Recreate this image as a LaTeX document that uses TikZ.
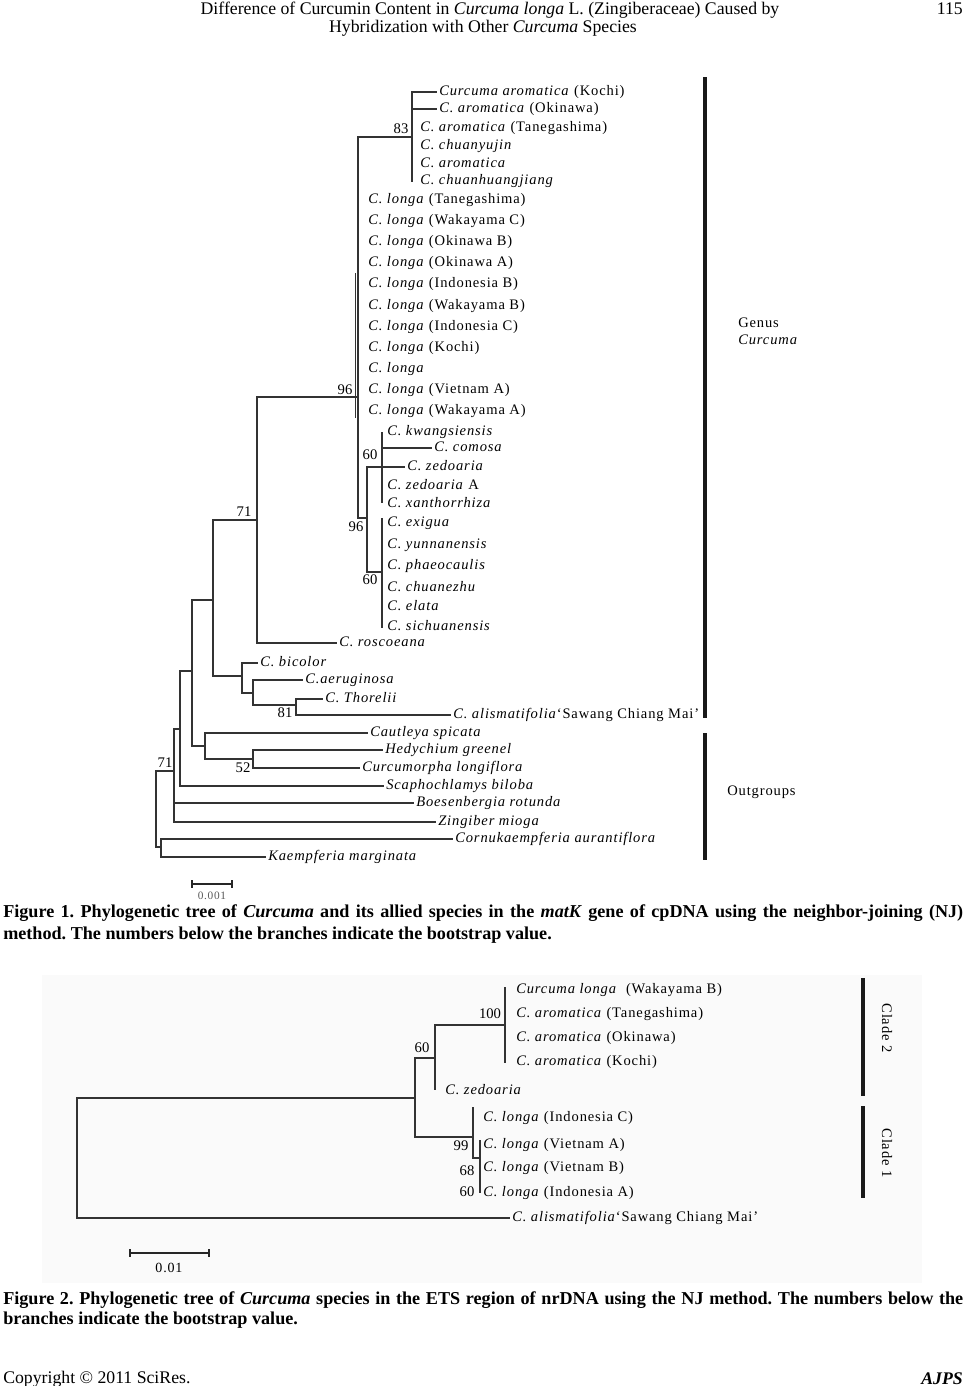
\documentclass[tikz,border=0pt]{standalone}
\usepackage{fontspec}
\setmainfont{Liberation Serif}
\newfontfamily\treefont[LetterSpace=6]{Liberation Serif}
\newcommand{\leaffont}{\treefont\fontsize{10.9}{13}\selectfont}
\newcommand{\bsfont}{\fontsize{11}{13}\selectfont}
\newcommand{\capfont}{\fontsize{13.6}{16}\selectfont\bfseries}
\newcommand{\headfont}{\fontsize{13.3}{16}\selectfont}
\frenchspacing
\begin{document}
\begin{tikzpicture}[x=0.75pt,y=-0.75pt,line join=miter,
  br/.style={draw=black!80,line width=0.8pt},
  leaf/.style={anchor=west,inner xsep=1.5pt,inner ysep=0pt,text height=0.72em,text depth=0.22em,font=\leaffont},
  boot/.style={inner sep=0pt,font=\bsfont},
  bar/.style={draw=black!90,line width=3pt},
  lab/.style={anchor=west,inner sep=0pt}]
\fill[white] (0,0) rectangle (965,1386);
\useasboundingbox (0,0) rectangle (965,1386);
%% page header
  \node[font=\headfont,inner sep=0pt] (hd1) at (490,10) {Difference of Curcumin Content in \textit{Curcuma longa} L. (Zingiberaceae) Caused by};
  \node[font=\headfont,inner sep=0pt] (hd2) at (483,28) {Hybridization with Other \textit{Curcuma} Species};
  \node[font=\headfont,inner sep=0pt,anchor=east] (pg) at (963,9) {115};
%% figure 1
  \coordinate (r1) at (156,809);
  \coordinate (n174) at (174,771);
  \coordinate (n180) at (180,729);
  \coordinate (n192) at (192,671);
  \coordinate (n205) at (205,746);
  \coordinate (n213) at (213,600);
  \coordinate (n242) at (242,676);
  \coordinate (n253) at (253,693);
  \coordinate (n296) at (296,705);
  \coordinate (n252) at (253,759);
  \coordinate (n257) at (257,520);
  \coordinate (n358) at (358,397);
  \coordinate (n412) at (412,137);
  \coordinate (n412b) at (412,182);
  \coordinate (n367) at (367,518);
  \coordinate (n382a) at (382,467);
  \coordinate (n382at) at (382,432);
  \coordinate (n382ab) at (382,503);
  \coordinate (n382b) at (382,572);
  \coordinate (n382bt) at (382,518);
  \coordinate (n382bb) at (382,628);
  \coordinate (n161) at (161,847);
  \coordinate (dbl1) at (355,273);
  \coordinate (dbl2) at (355,418);
  \node[leaf] (kochi) at (437,92) {\textit{Curcuma aromatica} (Kochi)};
  \node[leaf] (okin) at (437,109) {\textit{C. aromatica} (Okinawa)};
  \node[leaf] (tane) at (418,128) {\textit{C. aromatica} (Tanegashima)};
  \node[leaf] (chyj) at (418,146) {\textit{C. chuanyujin}};
  \node[leaf] (arom) at (418,164) {\textit{C. aromatica}};
  \node[leaf] (chhj) at (418,181) {\textit{C. chuanhuangjiang}};
  \node[leaf] (lTa) at (366,200) {\textit{C. longa} (Tanegashima)};
  \node[leaf] (lWC) at (366,221) {\textit{C. longa} (Wakayama C)};
  \node[leaf] (lOB) at (366,242) {\textit{C. longa} (Okinawa B)};
  \node[leaf] (lOA) at (366,263) {\textit{C. longa} (Okinawa A)};
  \node[leaf] (lIB) at (366,284) {\textit{C. longa} (Indonesia B)};
  \node[leaf] (lWB) at (366,306) {\textit{C. longa} (Wakayama B)};
  \node[leaf] (lIC) at (366,327) {\textit{C. longa} (Indonesia C)};
  \node[leaf] (lKo) at (366,348) {\textit{C. longa} (Kochi)};
  \node[leaf] (lon) at (366,369) {\textit{C. longa}};
  \node[leaf] (lVA) at (366,390) {\textit{C. longa} (Vietnam A)};
  \node[leaf] (lWA) at (366,411) {\textit{C. longa} (Wakayama A)};
  \node[leaf] (kwan) at (385,432) {\textit{C. kwangsiensis}};
  \node[leaf] (como) at (432,448) {\textit{C. comosa}};
  \node[leaf] (zedo) at (405,467) {\textit{C. zedoaria}};
  \node[leaf] (zedA) at (385,486) {\textit{C. zedoaria} A};
  \node[leaf] (xant) at (385,504) {\textit{C. xanthorrhiza}};
  \node[leaf] (exig) at (385,523) {\textit{C. exigua}};
  \node[leaf] (yunn) at (385,545) {\textit{C. yunnanensis}};
  \node[leaf] (phae) at (385,566) {\textit{C. phaeocaulis}};
  \node[leaf] (chuz) at (385,588) {\textit{C. chuanezhu}};
  \node[leaf] (elat) at (385,607) {\textit{C. elata}};
  \node[leaf] (sich) at (385,627) {\textit{C. sichuanensis}};
  \node[leaf] (rosc) at (337,643) {\textit{C. roscoeana}};
  \node[leaf] (bico) at (258,663) {\textit{C. bicolor}};
  \node[leaf] (aeru) at (303,680) {\textit{C.aeruginosa}};
  \node[leaf] (thor) at (323,699) {\textit{C. Thorelii}};
  \node[leaf] (alis) at (451,715) {\textit{C. alismatifolia}‘Sawang Chiang Mai’};
  \node[leaf] (caut) at (368,733) {\textit{Cautleya spicata}};
  \node[leaf] (hedy) at (383,750) {\textit{Hedychium greenel}};
  \node[leaf] (curc) at (360,768) {\textit{Curcumorpha longiflora}};
  \node[leaf] (scap) at (384,786) {\textit{Scaphochlamys biloba}};
  \node[leaf] (boes) at (414,803) {\textit{Boesenbergia rotunda}};
  \node[leaf] (zing) at (436,822) {\textit{Zingiber mioga}};
  \node[leaf] (corn) at (453,839) {\textit{Cornukaempferia aurantiflora}};
  \node[leaf] (kaem) at (266,857) {\textit{Kaempferia marginata}};
  \draw[br] (r1) |- (n174);
  \draw[br] (r1) |- (n161);
  \draw[br] (n174) |- (n180);
  \draw[br] (n174) |- (boes.west);
  \draw[br] (n174) |- (zing.west);
  \draw[br] (n180) |- (n192);
  \draw[br] (n180) |- (scap.west);
  \draw[br] (n192) |- (n213);
  \draw[br] (n192) |- (n205);
  \draw[br] (n213) |- (n257);
  \draw[br] (n213) |- (n242);
  \draw[br] (n257) |- (n358);
  \draw[br] (n257) |- (rosc.west);
  \draw[br] (n358) |- (n412);
  \draw[br] (n358) |- (n367);
  \draw[br,line width=0.6pt] (dbl1) -- (dbl2);
  \draw[br] (n412) |- (kochi.west);
  \draw[br] (n412) |- (okin.west);
  \draw[br] (n412) -- (n412b);
  \draw[br] (n367) |- (n382a);
  \draw[br] (n367) |- (n382b);
  \draw[br] (n382at) -- (n382ab);
  \draw[br] (n382a) |- (como.west);
  \draw[br] (n382a) -- (zedo.west);
  \draw[br] (n382bt) -- (n382bb);
  \draw[br] (n242) |- (bico.west);
  \draw[br] (n242) |- (n253);
  \draw[br] (n253) |- (aeru.west);
  \draw[br] (n253) |- (n296);
  \draw[br] (n296) |- (thor.west);
  \draw[br] (n296) |- (alis.west);
  \draw[br] (n205) |- (caut.west);
  \draw[br] (n205) |- (n252);
  \draw[br] (n252) |- (hedy.west);
  \draw[br] (n252) |- (curc.west);
  \draw[br] (n161) |- (corn.west);
  \draw[br] (n161) |- (kaem.west);
  \node[boot] (b83) at (401,129) {83};
  \node[boot] (b96a) at (345,390) {96};
  \node[boot] (b60a) at (370,455) {60};
  \node[boot] (b96b) at (356,527) {96};
  \node[boot] (b60b) at (370,580) {60};
  \node[boot] (b71a) at (244,512) {71};
  \node[boot] (b81) at (285,713) {81};
  \node[boot] (b52) at (243,768) {52};
  \node[boot] (b71b) at (165,763) {71};
  \coordinate (gtop) at (705,77);
  \coordinate (gbot) at (705,718);
  \coordinate (otop) at (705,733);
  \coordinate (obot) at (705,860);
  \draw[bar] (gtop) -- (gbot);
  \draw[bar] (otop) -- (obot);
  \node[leaf] (genus) at (736,324) {Genus};
  \node[leaf] (genus2) at (736,341) {\textit{Curcuma}};
  \node[leaf] (outg) at (725,792) {Outgroups};
  \coordinate (s1a) at (192,884);
  \coordinate (s1b) at (232,884);
  \draw[draw=black!85,line width=2pt] (s1a) -- (s1b);
  \draw[draw=black!85,line width=1pt] ([yshift=3pt]s1a) -- ([yshift=-3pt]s1a) ([yshift=3pt]s1b) -- ([yshift=-3pt]s1b);
  \node[inner sep=0pt,text=black!65,font=\treefont\fontsize{8.5}{10}\selectfont] (s1t) at (212,896) {0.001};
  \node[lab,font=\capfont] (cap1a) at (3,913) {\makebox[720pt][s]{Figure 1. Phylogenetic tree of \textit{Curcuma} and its allied species in the \textit{matK} gene of cpDNA using the neighbor-joining (NJ)}};
  \node[lab,font=\capfont] (cap1b) at (3,935) {method. The numbers below the branches indicate the bootstrap value.};
%% figure 2
  \fill[black!2] (42,975) rectangle (922,1283);
  \coordinate (r2) at (77,1157);
  \coordinate (m415) at (415,1098);
  \coordinate (m435) at (435,1058);
  \coordinate (m435b) at (435,1090);
  \coordinate (m505) at (505,1025);
  \coordinate (m505t) at (505,987);
  \coordinate (m505b) at (505,1063);
  \coordinate (m473) at (473,1137);
  \coordinate (m473t) at (473,1107);
  \coordinate (m480) at (480,1158);
  \coordinate (m480t) at (480,1140);
  \coordinate (m480b) at (480,1193);
  \node[leaf] (wakB) at (514,990) {\textit{Curcuma longa}\ \ (Wakayama B)};
  \node[leaf] (tane2) at (514,1014) {\textit{C. aromatica} (Tanegashima)};
  \node[leaf] (okin2) at (514,1038) {\textit{C. aromatica} (Okinawa)};
  \node[leaf] (kochi2) at (514,1062) {\textit{C. aromatica} (Kochi)};
  \node[leaf] (zedo2) at (443,1091) {\textit{C. zedoaria}};
  \node[leaf] (indC) at (481,1118) {\textit{C. longa} (Indonesia C)};
  \node[leaf] (vieA) at (481,1145) {\textit{C. longa} (Vietnam A)};
  \node[leaf] (vieB) at (481,1168) {\textit{C. longa} (Vietnam B)};
  \node[leaf] (indA) at (481,1193) {\textit{C. longa} (Indonesia A)};
  \node[leaf] (alis2) at (510,1218) {\textit{C. alismatifolia}‘Sawang Chiang Mai’};
  \draw[br] (r2) |- (m415);
  \draw[br] (r2) |- (alis2.west);
  \draw[br] (m415) |- (m435);
  \draw[br] (m415) |- (m473);
  \draw[br] (m435) |- (m505);
  \draw[br] (m435) -- (m435b);
  \draw[br] (m505t) -- (m505b);
  \draw[br] (m473) -- (m473t);
  \draw[br] (m473) |- (m480);
  \draw[br] (m480t) -- (m480b);
  \node[boot] (c100) at (490,1014) {100};
  \node[boot] (c60a) at (422,1048) {60};
  \node[boot] (c99) at (461,1146) {99};
  \node[boot] (c68) at (467,1171) {68};
  \node[boot] (c60b) at (467,1192) {60};
  \coordinate (k2t) at (863,978);
  \coordinate (k2b) at (863,1096);
  \coordinate (k1t) at (863,1106);
  \coordinate (k1b) at (863,1198);
  \draw[bar] (k2t) -- (k2b);
  \draw[bar] (k1t) -- (k1b);
  \node[rotate=-90,inner sep=0pt,font=\leaffont] (cl2) at (887,1028) {Clade 2};
  \node[rotate=-90,inner sep=0pt,font=\leaffont] (cl1) at (887,1153) {Clade 1};
  \coordinate (s2a) at (130,1253);
  \coordinate (s2b) at (209,1253);
  \draw[draw=black!85,line width=0.8pt] (s2a) -- (s2b);
  \draw[draw=black!85,line width=0.8pt] ([yshift=3pt]s2a) -- ([yshift=-3pt]s2a) ([yshift=3pt]s2b) -- ([yshift=-3pt]s2b);
  \node[inner sep=0pt,font=\treefont\fontsize{10.5}{12}\selectfont] (s2t) at (169,1268) {0.01};
  \node[lab,font=\capfont] (cap2a) at (3,1300) {\makebox[720pt][s]{Figure 2. Phylogenetic tree of \textit{Curcuma} species in the ETS region of nrDNA using the NJ method. The numbers below the}};
  \node[lab,font=\capfont] (cap2b) at (3,1320) {branches indicate the bootstrap value.};
%% footer
  \node[lab,font=\headfont] (cpr) at (3,1379) {Copyright © 2011 SciRes.};
  \node[lab,anchor=east,font=\headfont] (jrn) at (963,1379) {\textbf{\textit{AJPS}}};
%
\end{tikzpicture}
\end{document}
